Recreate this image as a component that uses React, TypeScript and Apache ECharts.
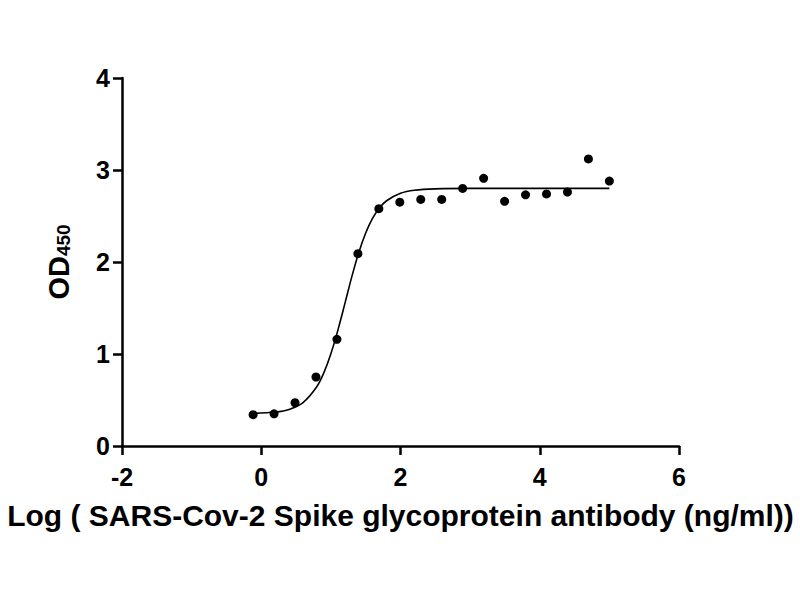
import React, { useEffect, useRef } from "react";
import * as echarts from "echarts";

const logConc = [-0.117, 0.184, 0.485, 0.786, 1.087, 1.388, 1.689, 1.99, 2.291, 2.592, 2.893, 3.194, 3.495, 3.796, 4.097, 4.398, 4.699, 5.0];
const odValues = [0.34, 0.35, 0.47, 0.75, 1.16, 2.09, 2.58, 2.65, 2.68, 2.68, 2.8, 2.91, 2.66, 2.73, 2.74, 2.76, 3.12, 2.88];

const curveX = [-0.117, 0.2, 0.4, 0.6, 0.8, 0.9, 1.0, 1.1, 1.2, 1.3, 1.4, 1.5, 1.6, 1.7, 1.8, 2.0, 2.2, 2.5, 3.0, 4.0, 5.0];
const curveY = [0.354, 0.369, 0.398, 0.472, 0.647, 0.797, 1.002, 1.257, 1.545, 1.838, 2.101, 2.316, 2.477, 2.59, 2.666, 2.747, 2.78, 2.795, 2.8, 2.8, 2.8];

const xTicks = { min: -2, max: 6, interval: 2 };
const yTicks = { min: 0, max: 4, interval: 1 };

const FONT = "'Liberation Sans', Arial, sans-serif";

export default function App() {
  const ref = useRef<HTMLDivElement>(null);
  useEffect(() => {
    if (!ref.current) return;
    const chart = echarts.init(ref.current, undefined, { renderer: "svg" });
    const axisCommon = {
      axisLine: { show: true, onZero: false, lineStyle: { color: "#000", width: 2.5 } },
      axisTick: { show: true, inside: false, length: 9, lineStyle: { color: "#000", width: 2.5 } },
      splitLine: { show: false },
    };
    const labelStyle = { color: "#000", fontFamily: FONT, fontWeight: "bold", fontSize: 25 };
    chart.setOption({
      animation: false,
      backgroundColor: "#fff",
      grid: { left: 122, right: 121, top: 78, bottom: 154 },
      xAxis: {
        type: "value",
        ...xTicks,
        ...axisCommon,
        axisLabel: { ...labelStyle, margin: 18 },
        name: "Log ( SARS-Cov-2 Spike glycoprotein antibody (ng/ml))",
        nameLocation: "middle",
        nameGap: 54,
        nameTextStyle: { color: "#000", fontFamily: FONT, fontWeight: "bold", fontSize: 30 },
      },
      yAxis: {
        type: "value",
        ...yTicks,
        ...axisCommon,
        axisLabel: { ...labelStyle, margin: 12 },
        name: "{a|OD}{b|450}",
        nameLocation: "middle",
        nameRotate: 90,
        nameGap: 49,
        nameTextStyle: {
          rich: {
            a: { color: "#000", fontFamily: FONT, fontWeight: "bold", fontSize: 29, verticalAlign: "bottom" },
            b: { color: "#000", fontFamily: FONT, fontWeight: "bold", fontSize: 19, verticalAlign: "bottom" },
          },
        },
      },
      series: [
        {
          type: "line",
          data: curveX.map((x, i) => [x, curveY[i]]),
          smooth: 0.3,
          showSymbol: false,
          lineStyle: { color: "#000", width: 1.6 },
          silent: true,
        },
        {
          type: "scatter",
          data: logConc.map((x, i) => [x, odValues[i]]),
          symbol: "circle",
          symbolSize: 9,
          itemStyle: { color: "#000", opacity: 1 },
        },
      ],
    });
    return () => chart.dispose();
  }, []);
  return <div ref={ref} style={{ position: "fixed", left: 0, top: 0, width: 800, height: 600, background: "#fff" }} />;
}
